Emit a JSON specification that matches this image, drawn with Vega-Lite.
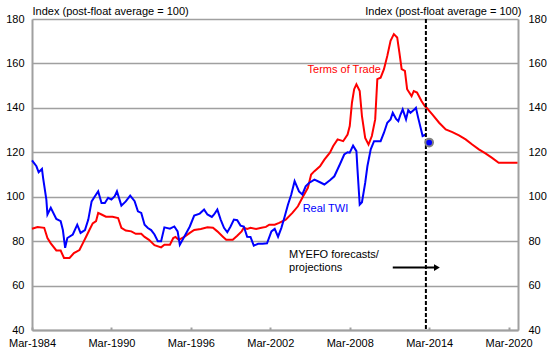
{
  "$schema": "https://vega.github.io/schema/vega-lite/v6.json",
  "width": 486,
  "height": 311,
  "autosize": {"type": "none"},
  "padding": {"left": 32, "top": 19, "right": 29, "bottom": 18},
  "background": "white",
  "config": {
    "view": {"stroke": null},
    "font": "Liberation Sans",
    "axis": {
      "labelFont": "Liberation Sans",
      "titleFont": "Liberation Sans",
      "labelFontSize": 11,
      "titleFontSize": 11,
      "titleFontWeight": "normal",
      "labelColor": "black",
      "titleColor": "black",
      "domainColor": "#a0a0a0",
      "domainWidth": 2,
      "gridColor": "#a0a0a0",
      "gridWidth": 1.6,
      "gridOpacity": 1
    }
  },
  "datasets": {
    "tot": [
      {"date": "1984-03", "value": 85.6}, {"date": "1984-08", "value": 86.4}, {"date": "1985-02", "value": 86},
      {"date": "1985-05", "value": 81.4}, {"date": "1985-08", "value": 79}, {"date": "1986-01", "value": 75.8},
      {"date": "1986-05", "value": 75.8}, {"date": "1986-08", "value": 72.4}, {"date": "1987-01", "value": 72.4},
      {"date": "1987-05", "value": 74.6}, {"date": "1987-10", "value": 76}, {"date": "1988-01", "value": 79},
      {"date": "1988-04", "value": 82}, {"date": "1988-07", "value": 85}, {"date": "1988-10", "value": 88},
      {"date": "1989-01", "value": 89}, {"date": "1989-03", "value": 92.7}, {"date": "1989-06", "value": 92},
      {"date": "1989-10", "value": 91}, {"date": "1990-04", "value": 91}, {"date": "1990-09", "value": 90.4},
      {"date": "1990-12", "value": 86}, {"date": "1991-04", "value": 84.8}, {"date": "1991-09", "value": 84.4},
      {"date": "1992-01", "value": 83.3}, {"date": "1992-06", "value": 83.3}, {"date": "1992-09", "value": 81.9},
      {"date": "1993-01", "value": 80.6}, {"date": "1993-06", "value": 78.2}, {"date": "1993-12", "value": 77.2},
      {"date": "1994-03", "value": 78.4}, {"date": "1994-08", "value": 78.4}, {"date": "1994-11", "value": 81.4},
      {"date": "1995-01", "value": 81.9}, {"date": "1995-04", "value": 80.6}, {"date": "1995-09", "value": 81.9},
      {"date": "1996-02", "value": 83.7}, {"date": "1996-06", "value": 85}, {"date": "1996-12", "value": 85.5},
      {"date": "1997-06", "value": 86.2}, {"date": "1997-11", "value": 86}, {"date": "1998-03", "value": 84.4},
      {"date": "1998-08", "value": 82}, {"date": "1998-11", "value": 80.6}, {"date": "1999-05", "value": 80.6},
      {"date": "1999-09", "value": 82.4}, {"date": "2000-01", "value": 84.4}, {"date": "2000-03", "value": 86},
      {"date": "2000-06", "value": 85.5}, {"date": "2000-09", "value": 86}, {"date": "2001-02", "value": 85.5},
      {"date": "2001-07", "value": 86}, {"date": "2001-11", "value": 86.4}, {"date": "2002-02", "value": 87.4},
      {"date": "2002-07", "value": 87.4}, {"date": "2002-11", "value": 88.2}, {"date": "2003-05", "value": 89.7},
      {"date": "2003-11", "value": 92.7}, {"date": "2004-04", "value": 95.7}, {"date": "2004-08", "value": 99.5},
      {"date": "2005-01", "value": 104}, {"date": "2005-04", "value": 110}, {"date": "2005-07", "value": 111.5},
      {"date": "2005-12", "value": 113.7}, {"date": "2006-04", "value": 116.7}, {"date": "2006-09", "value": 119.8},
      {"date": "2006-12", "value": 122.8}, {"date": "2007-04", "value": 125.8}, {"date": "2007-09", "value": 125},
      {"date": "2008-01", "value": 128}, {"date": "2008-03", "value": 131.8}, {"date": "2008-05", "value": 142.3},
      {"date": "2008-07", "value": 148.4}, {"date": "2008-09", "value": 150.6}, {"date": "2008-12", "value": 147.6},
      {"date": "2009-02", "value": 136.3}, {"date": "2009-05", "value": 126.5}, {"date": "2009-08", "value": 123.5},
      {"date": "2009-11", "value": 127.3}, {"date": "2010-02", "value": 134.8}, {"date": "2010-04", "value": 152.9},
      {"date": "2010-07", "value": 153.6}, {"date": "2010-10", "value": 157.4}, {"date": "2011-01", "value": 163.4},
      {"date": "2011-04", "value": 170.2}, {"date": "2011-07", "value": 173.2}, {"date": "2011-10", "value": 171.7},
      {"date": "2011-12", "value": 164.9}, {"date": "2012-02", "value": 157.4}, {"date": "2012-05", "value": 156.6},
      {"date": "2012-07", "value": 148.4}, {"date": "2012-11", "value": 145.3}, {"date": "2013-01", "value": 147.6},
      {"date": "2013-04", "value": 146.9}, {"date": "2013-08", "value": 143.1}, {"date": "2013-11", "value": 140.8},
      {"date": "2014-01", "value": 139.8}, {"date": "2014-06", "value": 137}, {"date": "2014-12", "value": 133.3},
      {"date": "2015-06", "value": 130.3}, {"date": "2015-12", "value": 129.1}, {"date": "2016-06", "value": 127.6},
      {"date": "2016-12", "value": 125.8}, {"date": "2017-06", "value": 123.5}, {"date": "2017-12", "value": 121.3},
      {"date": "2018-06", "value": 119.5}, {"date": "2018-12", "value": 117.5}, {"date": "2019-06", "value": 115.3},
      {"date": "2019-12", "value": 115.3}, {"date": "2020-11", "value": 115.3}
    ],
    "twi": [
      {"date": "1984-03", "value": 116.4}, {"date": "1984-07", "value": 113.7}, {"date": "1984-09", "value": 111},
      {"date": "1984-12", "value": 112.5}, {"date": "1985-01", "value": 108.5}, {"date": "1985-04", "value": 98.7},
      {"date": "1985-05", "value": 92}, {"date": "1985-08", "value": 95}, {"date": "1986-01", "value": 90},
      {"date": "1986-05", "value": 89}, {"date": "1986-07", "value": 85}, {"date": "1986-09", "value": 77},
      {"date": "1986-11", "value": 81.4}, {"date": "1987-04", "value": 83}, {"date": "1987-08", "value": 87.4},
      {"date": "1987-11", "value": 83.7}, {"date": "1988-03", "value": 85}, {"date": "1988-06", "value": 89.7},
      {"date": "1988-09", "value": 97.9}, {"date": "1988-12", "value": 100.2}, {"date": "1989-03", "value": 102.4},
      {"date": "1989-06", "value": 97.2}, {"date": "1989-09", "value": 97.2}, {"date": "1989-12", "value": 99.5},
      {"date": "1990-03", "value": 98.7}, {"date": "1990-06", "value": 100.2}, {"date": "1990-08", "value": 102.4},
      {"date": "1990-12", "value": 96}, {"date": "1991-04", "value": 97.9}, {"date": "1991-08", "value": 100.5},
      {"date": "1991-12", "value": 98}, {"date": "1992-03", "value": 93.4}, {"date": "1992-06", "value": 92.7},
      {"date": "1992-09", "value": 87.4}, {"date": "1992-12", "value": 85.9}, {"date": "1993-03", "value": 85},
      {"date": "1993-06", "value": 83}, {"date": "1993-09", "value": 80}, {"date": "1993-12", "value": 80},
      {"date": "1994-03", "value": 86.2}, {"date": "1994-08", "value": 85.6}, {"date": "1994-12", "value": 86.6},
      {"date": "1995-03", "value": 84.4}, {"date": "1995-05", "value": 78.4}, {"date": "1995-09", "value": 82},
      {"date": "1996-02", "value": 86.6}, {"date": "1996-06", "value": 91.5}, {"date": "1996-11", "value": 92.4},
      {"date": "1997-03", "value": 94.2}, {"date": "1997-06", "value": 92}, {"date": "1997-10", "value": 90.9},
      {"date": "1997-12", "value": 92}, {"date": "1998-03", "value": 94.2}, {"date": "1998-06", "value": 89.7},
      {"date": "1998-09", "value": 86}, {"date": "1998-12", "value": 84}, {"date": "1999-03", "value": 86.6},
      {"date": "1999-06", "value": 89.7}, {"date": "1999-09", "value": 89.4}, {"date": "1999-12", "value": 87},
      {"date": "2000-03", "value": 86.6}, {"date": "2000-06", "value": 82}, {"date": "2000-09", "value": 81.9},
      {"date": "2000-12", "value": 78}, {"date": "2001-04", "value": 78.8}, {"date": "2001-08", "value": 78.8},
      {"date": "2001-12", "value": 79}, {"date": "2002-04", "value": 84.4}, {"date": "2002-07", "value": 85.5},
      {"date": "2002-10", "value": 82}, {"date": "2003-01", "value": 86}, {"date": "2003-04", "value": 91},
      {"date": "2003-07", "value": 96.4}, {"date": "2003-10", "value": 101}, {"date": "2004-01", "value": 107},
      {"date": "2004-05", "value": 102.4}, {"date": "2004-08", "value": 101}, {"date": "2004-11", "value": 104.7},
      {"date": "2005-02", "value": 106.2}, {"date": "2005-07", "value": 107.7}, {"date": "2005-12", "value": 106.5},
      {"date": "2006-04", "value": 105.5}, {"date": "2006-09", "value": 107.4}, {"date": "2007-01", "value": 109.2},
      {"date": "2007-06", "value": 114.5}, {"date": "2007-10", "value": 119}, {"date": "2008-01", "value": 120},
      {"date": "2008-03", "value": 119.8}, {"date": "2008-06", "value": 123}, {"date": "2008-09", "value": 120.5},
      {"date": "2008-10", "value": 112.2}, {"date": "2008-12", "value": 96.4}, {"date": "2009-02", "value": 97.5},
      {"date": "2009-05", "value": 106.2}, {"date": "2009-07", "value": 113.7}, {"date": "2009-10", "value": 121.3},
      {"date": "2010-01", "value": 125}, {"date": "2010-04", "value": 125}, {"date": "2010-07", "value": 125},
      {"date": "2010-10", "value": 128.8}, {"date": "2011-01", "value": 133.3}, {"date": "2011-04", "value": 134.8},
      {"date": "2011-06", "value": 137.8}, {"date": "2011-09", "value": 135}, {"date": "2011-11", "value": 134},
      {"date": "2012-01", "value": 137}, {"date": "2012-03", "value": 139.3}, {"date": "2012-06", "value": 134.8},
      {"date": "2012-08", "value": 139}, {"date": "2012-10", "value": 137.8}, {"date": "2013-01", "value": 139},
      {"date": "2013-03", "value": 140}, {"date": "2013-05", "value": 135.6}, {"date": "2013-08", "value": 129.5},
      {"date": "2013-09", "value": 127.3}, {"date": "2013-12", "value": 128}
    ],
    "forecast": [{"date": "2014-03", "value": 124.4}],
    "divider": [{"date": "2013-12"}],
    "arrow": [{"date": "2011-06", "date2": "2014-09", "value": 68.1}],
    "arrowhead": [{"date": "2014-10", "value": 68.1}],
    "labels": [
      {"date": "2007-10", "value": 157.2, "text": "Terms of Trade", "series": "tot"},
      {"date": "2006-05", "value": 94.6, "text": "Real TWI", "series": "twi"}
    ],
    "note": [
      {"date": "2003-08", "value": 73.9, "text": "MYEFO forecasts/"},
      {"date": "2003-08", "value": 68.1, "text": "projections"}
    ]
  },
  "layer": [
    {
      "data": {"name": "tot"},
      "mark": {"type": "line", "color": "#ff0000", "strokeWidth": 2, "interpolate": "linear"},
      "encoding": {
        "x": {
          "field": "date", "type": "temporal",
          "scale": {"type": "utc", "domain": [{"year": 1984, "month": 3, "date": 1, "utc": true}, {"year": 2020, "month": 11, "date": 15, "utc": true}]},
          "axis": {
            "title": null,
            "values": [
              {"year": 1984, "month": 3, "date": 1, "utc": true},
              {"year": 1990, "month": 3, "date": 1, "utc": true},
              {"year": 1996, "month": 3, "date": 1, "utc": true},
              {"year": 2002, "month": 3, "date": 1, "utc": true},
              {"year": 2008, "month": 3, "date": 1, "utc": true},
              {"year": 2014, "month": 3, "date": 1, "utc": true},
              {"year": 2020, "month": 3, "date": 1, "utc": true}
            ],
            "labelExpr": "utcFormat(datum.value, '%b-%Y')",
            "grid": false,
            "ticks": true,
            "tickColor": "#a0a0a0",
            "tickWidth": 2,
            "tickSize": -3,
            "labelPadding": 10,
            "labelBaseline": "top",
            "labelFlush": false
          }
        },
        "y": {
          "field": "value", "type": "quantitative",
          "scale": {"domain": [40, 180], "nice": false, "zero": false},
          "axis": {
            "orient": "right",
            "values": [40, 60, 80, 100, 120, 140, 160, 180],
            "grid": false,
            "ticks": false,
            "labelPadding": 10,
            "title": "Index (post-float average = 100)",
            "titleAngle": 0,
            "titleAlign": "right",
            "titleBaseline": "alphabetic",
            "titleX": 3,
            "titleY": -5
          }
        }
      }
    },
    {
      "data": {"name": "twi"},
      "mark": {"type": "line", "color": "#0000ff", "strokeWidth": 2, "interpolate": "linear"},
      "encoding": {
        "x": {"field": "date", "type": "temporal"},
        "y": {
          "field": "value", "type": "quantitative",
          "axis": {
            "orient": "left",
            "values": [40, 60, 80, 100, 120, 140, 160, 180],
            "grid": true,
            "ticks": false,
            "labelPadding": 8,
            "title": "Index (post-float average = 100)",
            "titleAngle": 0,
            "titleAlign": "left",
            "titleBaseline": "alphabetic",
            "titleX": 0,
            "titleY": -5
          }
        }
      }
    },
    {
      "data": {"name": "divider"},
      "mark": {"type": "rule", "color": "black", "strokeWidth": 2, "strokeDash": [4, 2]},
      "encoding": {"x": {"field": "date", "type": "temporal"}}
    },
    {
      "data": {"name": "forecast"},
      "mark": {"type": "point", "shape": "circle", "filled": true, "fill": "#0000ff", "stroke": "#808080", "strokeWidth": 2, "size": 60, "opacity": 1},
      "encoding": {
        "x": {"field": "date", "type": "temporal"},
        "y": {"field": "value", "type": "quantitative", "axis": null}
      }
    },
    {
      "data": {"name": "arrow"},
      "mark": {"type": "rule", "color": "black", "strokeWidth": 2},
      "encoding": {
        "x": {"field": "date", "type": "temporal"},
        "x2": {"field": "date2"},
        "y": {"field": "value", "type": "quantitative", "axis": null}
      }
    },
    {
      "data": {"name": "arrowhead"},
      "mark": {"type": "point", "shape": "triangle-right", "filled": true, "color": "black", "size": 45, "opacity": 1},
      "encoding": {
        "x": {"field": "date", "type": "temporal"},
        "y": {"field": "value", "type": "quantitative", "axis": null}
      }
    },
    {
      "data": {"name": "labels"},
      "mark": {"type": "text", "fontSize": 11, "align": "center", "baseline": "middle", "font": "Liberation Sans"},
      "encoding": {
        "x": {"field": "date", "type": "temporal"},
        "y": {"field": "value", "type": "quantitative", "axis": null},
        "text": {"field": "text"},
        "color": {"field": "series", "type": "nominal", "scale": {"domain": ["tot", "twi"], "range": ["#ff0000", "#0000ff"]}, "legend": null}
      }
    },
    {
      "data": {"name": "note"},
      "mark": {"type": "text", "fontSize": 11, "align": "left", "baseline": "middle", "color": "black", "font": "Liberation Sans"},
      "encoding": {
        "x": {"field": "date", "type": "temporal"},
        "y": {"field": "value", "type": "quantitative", "axis": null},
        "text": {"field": "text"}
      }
    }
  ],
  "resolve": {"axis": {"y": "independent"}}
}
